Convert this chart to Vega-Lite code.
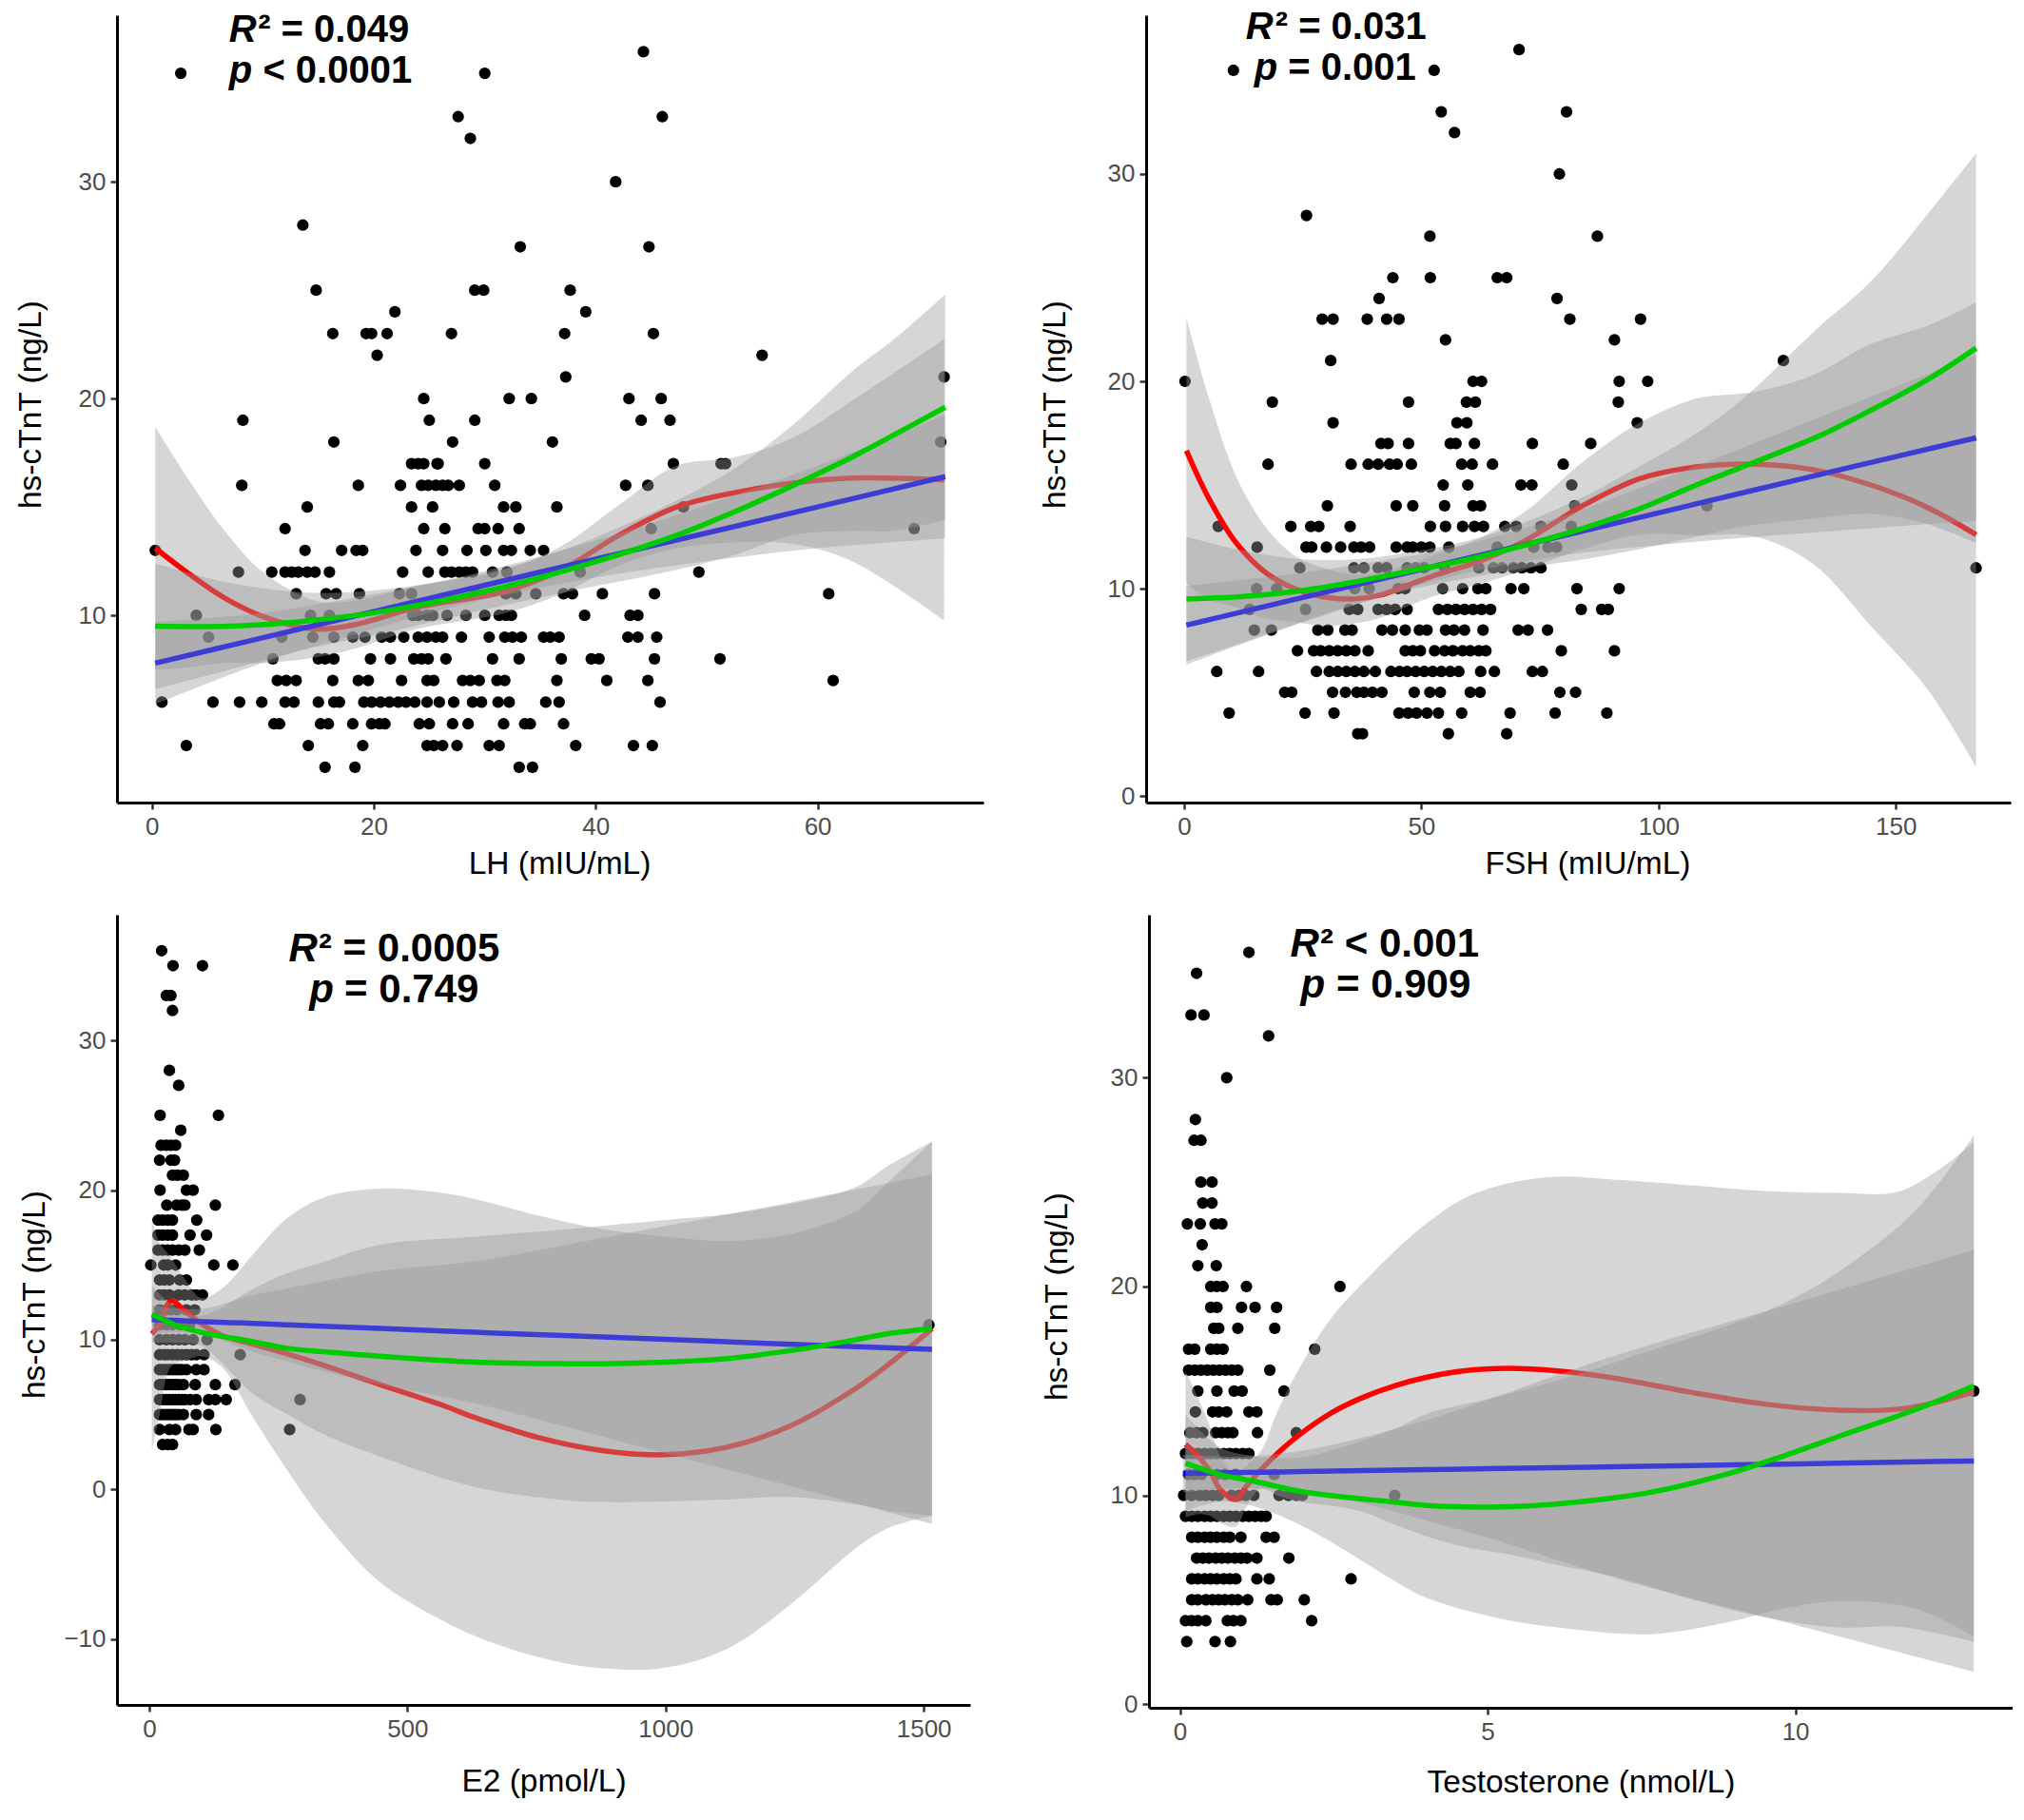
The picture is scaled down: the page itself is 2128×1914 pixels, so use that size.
{
"$schema":"https://vega.github.io/schema/vega-lite/v6.json",
"background":"white",
"padding":{"left":15,"top":8,"right":0,"bottom":0},
"config":{"view":{"stroke":null},"font":"Liberation Sans",
"axis":{"grid":false,"domainColor":"black","domainWidth":3,"tickColor":"#333333","tickWidth":2.5,"tickSize":7,"labelColor":"#4d4d4d","labelFontSize":26,"labelFont":"Liberation Sans","labelPadding":5,"titleFontSize":33.5,"titleFont":"Liberation Sans","titleFontWeight":"normal","titleColor":"black","labelOverlap":false,"format":"d"}},
"datasets":{
"p1pts":[{"x":44.3,"y":36},{"x":2.6,"y":35},{"x":30,"y":35},{"x":27.6,"y":33},{"x":46,"y":33},{"x":28.7,"y":32},{"x":41.8,"y":30},{"x":13.6,"y":28},{"x":33.2,"y":27},{"x":44.8,"y":27},{"x":14.8,"y":25},{"x":29.1,"y":25},{"x":29.9,"y":25},{"x":37.7,"y":25},{"x":21.9,"y":24},{"x":39.1,"y":24},{"x":16.3,"y":23},{"x":19.3,"y":23},{"x":19.8,"y":23},{"x":21.2,"y":23},{"x":27,"y":23},{"x":37.2,"y":23},{"x":45.2,"y":23},{"x":20.3,"y":22},{"x":55,"y":22},{"x":37.3,"y":21},{"x":71.4,"y":21},{"x":24.5,"y":20},{"x":32.2,"y":20},{"x":34.2,"y":20},{"x":43,"y":20},{"x":45.9,"y":20},{"x":8.2,"y":19},{"x":25,"y":19},{"x":29.1,"y":19},{"x":44.1,"y":19},{"x":46.7,"y":19},{"x":16.4,"y":18},{"x":27.1,"y":18},{"x":36.1,"y":18},{"x":71.1,"y":18},
{"x":23.4,"y":17},{"x":24,"y":17},{"x":24.5,"y":17},{"x":25.7,"y":17},{"x":25.8,"y":17},{"x":30,"y":17},{"x":47,"y":17},{"x":51.3,"y":17},{"x":51.7,"y":17},
{"x":8.1,"y":16},{"x":18.6,"y":16},{"x":22.4,"y":16},{"x":24.3,"y":16},{"x":24.9,"y":16},{"x":25.6,"y":16},{"x":26.2,"y":16},{"x":26.7,"y":16},{"x":27.7,"y":16},{"x":30.9,"y":16},{"x":42.7,"y":16},{"x":44.7,"y":16},
{"x":14,"y":15},{"x":23.4,"y":15},{"x":25.3,"y":15},{"x":31.7,"y":15},{"x":32.8,"y":15},{"x":36.5,"y":15},{"x":47.9,"y":15},
{"x":12,"y":14},{"x":24.5,"y":14},{"x":26.4,"y":14},{"x":29.4,"y":14},{"x":30,"y":14},{"x":31.2,"y":14},{"x":33.1,"y":14},{"x":45,"y":14},{"x":68.7,"y":14},
{"x":0.3,"y":13},{"x":13.8,"y":13},{"x":17.1,"y":13},{"x":18.4,"y":13},{"x":19,"y":13},{"x":23.8,"y":13},{"x":26.2,"y":13},{"x":28.4,"y":13},{"x":30.1,"y":13},{"x":31.7,"y":13},{"x":32.4,"y":13},{"x":34.1,"y":13},{"x":35.3,"y":13},
{"x":7.8,"y":12},{"x":10.8,"y":12},{"x":12,"y":12},{"x":12.6,"y":12},{"x":13.2,"y":12},{"x":14,"y":12},{"x":14.7,"y":12},{"x":16,"y":12},{"x":22.6,"y":12},{"x":24.9,"y":12},{"x":26.4,"y":12},{"x":27,"y":12},{"x":27.7,"y":12},{"x":28.3,"y":12},{"x":28.9,"y":12},{"x":30.7,"y":12},{"x":32,"y":12},{"x":38.6,"y":12},{"x":49.3,"y":12},
{"x":13,"y":11},{"x":15.7,"y":11},{"x":16.6,"y":11},{"x":18.7,"y":11},{"x":22.3,"y":11},{"x":23.4,"y":11},{"x":29.2,"y":11},{"x":31.9,"y":11},{"x":32.8,"y":11},{"x":34.6,"y":11},{"x":37.1,"y":11},{"x":37.9,"y":11},{"x":40.6,"y":11},{"x":45.3,"y":11},{"x":61,"y":11},
{"x":4,"y":10},{"x":14.3,"y":10},{"x":16,"y":10},{"x":23.5,"y":10},{"x":24,"y":10},{"x":24.8,"y":10},{"x":25.3,"y":10},{"x":26.6,"y":10},{"x":28.3,"y":10},{"x":30,"y":10},{"x":31.3,"y":10},{"x":31.9,"y":10},{"x":32.4,"y":10},{"x":39,"y":10},{"x":43.1,"y":10},{"x":43.8,"y":10},
{"x":5.1,"y":9},{"x":11.7,"y":9},{"x":14.5,"y":9},{"x":16.4,"y":9},{"x":18.1,"y":9},{"x":19.2,"y":9},{"x":20.7,"y":9},{"x":21.5,"y":9},{"x":22.7,"y":9},{"x":24,"y":9},{"x":24.8,"y":9},{"x":25.6,"y":9},{"x":26.2,"y":9},{"x":27.9,"y":9},{"x":30.4,"y":9},{"x":31.8,"y":9},{"x":32.5,"y":9},{"x":33.3,"y":9},{"x":35.3,"y":9},{"x":35.9,"y":9},{"x":36.7,"y":9},{"x":42.9,"y":9},{"x":43.8,"y":9},{"x":45.5,"y":9},
{"x":10.9,"y":8},{"x":15,"y":8},{"x":15.6,"y":8},{"x":16.4,"y":8},{"x":19.7,"y":8},{"x":21.5,"y":8},{"x":23.6,"y":8},{"x":24.3,"y":8},{"x":24.9,"y":8},{"x":26.5,"y":8},{"x":30.7,"y":8},{"x":33.1,"y":8},{"x":36.9,"y":8},{"x":39.6,"y":8},{"x":40.3,"y":8},{"x":45.3,"y":8},{"x":51.2,"y":8},
{"x":11.3,"y":7},{"x":12.1,"y":7},{"x":13,"y":7},{"x":16.3,"y":7},{"x":18.6,"y":7},{"x":19.5,"y":7},{"x":22.5,"y":7},{"x":24.8,"y":7},{"x":25.4,"y":7},{"x":28,"y":7},{"x":28.7,"y":7},{"x":29.5,"y":7},{"x":31.1,"y":7},{"x":31.8,"y":7},{"x":36.5,"y":7},{"x":41,"y":7},{"x":44.7,"y":7},{"x":61.4,"y":7},
{"x":0.9,"y":6},{"x":5.5,"y":6},{"x":7.9,"y":6},{"x":9.9,"y":6},{"x":12,"y":6},{"x":12.8,"y":6},{"x":15,"y":6},{"x":16.4,"y":6},{"x":16.9,"y":6},{"x":19.1,"y":6},{"x":19.8,"y":6},{"x":20.6,"y":6},{"x":21.4,"y":6},{"x":22.2,"y":6},{"x":22.9,"y":6},{"x":23.7,"y":6},{"x":24.8,"y":6},{"x":25.9,"y":6},{"x":27.2,"y":6},{"x":28.9,"y":6},{"x":29.7,"y":6},{"x":31.2,"y":6},{"x":32.2,"y":6},{"x":35.5,"y":6},{"x":36.7,"y":6},{"x":45.8,"y":6},
{"x":11,"y":5},{"x":11.5,"y":5},{"x":15.2,"y":5},{"x":15.9,"y":5},{"x":18.1,"y":5},{"x":19.8,"y":5},{"x":20.5,"y":5},{"x":21,"y":5},{"x":24.1,"y":5},{"x":25,"y":5},{"x":27.1,"y":5},{"x":28.5,"y":5},{"x":31.7,"y":5},{"x":33.6,"y":5},{"x":34.1,"y":5},{"x":37.1,"y":5},
{"x":3.1,"y":4},{"x":14.1,"y":4},{"x":19,"y":4},{"x":24.8,"y":4},{"x":25.4,"y":4},{"x":26.2,"y":4},{"x":27.5,"y":4},{"x":30.4,"y":4},{"x":31.3,"y":4},{"x":38.2,"y":4},{"x":43.4,"y":4},{"x":45.1,"y":4},
{"x":15.6,"y":3},{"x":18.3,"y":3},{"x":33.1,"y":3},{"x":34.3,"y":3}],
"p1r":[{"x":0.3,"y":13.1,"lo":7.5,"hi":18.7},{"x":3.25,"y":11.95,"lo":7.6,"hi":16.3},{"x":6.4,"y":10.85,"lo":7.8,"hi":14},{"x":10,"y":9.95,"lo":7.8,"hi":12},{"x":14.8,"y":9.37,"lo":8.07,"hi":10.67},{"x":18.5,"y":9.6,"lo":8.5,"hi":10.7},{"x":23.7,"y":10.35,"lo":9.35,"hi":11.35},{"x":31.6,"y":11.08,"lo":10.08,"hi":12.08},{"x":36.9,"y":12.1,"lo":11,"hi":13.2},{"x":42.1,"y":13.7,"lo":12.3,"hi":15.1},{"x":47.3,"y":15,"lo":13.1,"hi":16.9},{"x":52.6,"y":15.67,"lo":13.37,"hi":17.3},{"x":57.8,"y":16.1,"lo":13.3,"hi":18.2},{"x":63.1,"y":16.33,"lo":12.5,"hi":19.9},{"x":71.4,"y":16.25,"lo":9.77,"hi":22.74}],
"p1g":[{"x":0.3,"y":9.5,"lo":6.6,"hi":12.4},{"x":7,"y":9.5,"lo":7.5,"hi":11.5},{"x":14,"y":9.75,"lo":8.45,"hi":11.05},{"x":21,"y":10.2,"lo":9.2,"hi":11.2},{"x":31.6,"y":11.3,"lo":10.45,"hi":12.15},{"x":39.5,"y":12.4,"lo":11.3,"hi":13.5},{"x":47.3,"y":13.7,"lo":12.1,"hi":15.3},{"x":52.6,"y":14.8,"lo":12.8,"hi":16.8},{"x":57.8,"y":16,"lo":13.7,"hi":18.8},{"x":63.1,"y":17.3,"lo":13.9,"hi":21.25},{"x":66.8,"y":18.3,"lo":13.9,"hi":22.7},{"x":71.5,"y":19.6,"lo":14.4,"hi":24.8}],
"p1b":[{"x":0.3,"y":7.8,"lo":5.9,"hi":9.7},{"x":10,"y":8.97,"lo":7.82,"hi":10.12},{"x":20,"y":10.18,"lo":9.38,"hi":10.98},{"x":28,"y":11.15,"lo":10.5,"hi":11.8},{"x":40,"y":12.6,"lo":11.75,"hi":13.45},{"x":50,"y":13.8,"lo":12.5,"hi":15.1},{"x":60,"y":15,"lo":13.1,"hi":16.9},{"x":71.5,"y":16.4,"lo":13.55,"hi":19.25}],
"p1it":[{"x":6.95,"y":37,"t":"R"},{"x":6.95,"y":35.1,"t":"p"}],
"p1up":[{"x":9.55,"y":37,"t":"² = 0.049"},{"x":10,"y":35.1,"t":"< 0.0001"}],
"p2pts":[{"x":70.6,"y":36},{"x":10.4,"y":35},{"x":52.7,"y":35},{"x":54.2,"y":33},{"x":80.6,"y":33},{"x":57,"y":32},{"x":79.1,"y":30},{"x":25.8,"y":28},{"x":51.8,"y":27},{"x":87.1,"y":27},{"x":44,"y":25},{"x":51.9,"y":25},{"x":66,"y":25},{"x":68,"y":25},{"x":41.1,"y":24},{"x":78.6,"y":24},{"x":29.1,"y":23},{"x":31.4,"y":23},{"x":38.6,"y":23},{"x":42.7,"y":23},{"x":45.3,"y":23},{"x":81.3,"y":23},{"x":96.2,"y":23},{"x":55.1,"y":22},{"x":90.7,"y":22},{"x":30.9,"y":21},{"x":126.3,"y":21},{"x":0.2,"y":20},{"x":60.9,"y":20},{"x":62.7,"y":20},{"x":91.7,"y":20},{"x":97.7,"y":20},{"x":18.6,"y":19},{"x":47.3,"y":19},{"x":59.5,"y":19},{"x":61.4,"y":19},{"x":91.5,"y":19},{"x":31.4,"y":18},{"x":57.5,"y":18},{"x":59.6,"y":18},{"x":95.5,"y":18},
{"x":41.5,"y":17},{"x":43,"y":17},{"x":47.3,"y":17},{"x":56.1,"y":17},{"x":57.3,"y":17},{"x":61.2,"y":17},{"x":73.4,"y":17},{"x":85.7,"y":17},
{"x":17.7,"y":16},{"x":35.2,"y":16},{"x":38.8,"y":16},{"x":40.9,"y":16},{"x":43.3,"y":16},{"x":44.9,"y":16},{"x":47.9,"y":16},{"x":58.5,"y":16},{"x":60.7,"y":16},{"x":65,"y":16},{"x":79.9,"y":16},
{"x":54.6,"y":15},{"x":59.8,"y":15},{"x":71,"y":15},{"x":73.3,"y":15},{"x":81.7,"y":15},
{"x":30.2,"y":14},{"x":44.7,"y":14},{"x":48.2,"y":14},{"x":54.9,"y":14},{"x":60.9,"y":14},{"x":62.5,"y":14},{"x":82.3,"y":14},{"x":110.2,"y":14},
{"x":7.2,"y":13},{"x":22.5,"y":13},{"x":26.7,"y":13},{"x":28.4,"y":13},{"x":35,"y":13},{"x":51.9,"y":13},{"x":55.1,"y":13},{"x":58.7,"y":13},{"x":61.2,"y":13},{"x":63.1,"y":13},{"x":67.6,"y":13},{"x":70,"y":13},{"x":75.2,"y":13},{"x":81.6,"y":13},
{"x":15.4,"y":12},{"x":25.7,"y":12},{"x":26.9,"y":12},{"x":30,"y":12},{"x":33,"y":12},{"x":35.8,"y":12},{"x":37.3,"y":12},{"x":39.1,"y":12},{"x":44.7,"y":12},{"x":47,"y":12},{"x":48.2,"y":12},{"x":50,"y":12},{"x":51.8,"y":12},{"x":55.8,"y":12},{"x":66,"y":12},{"x":73.7,"y":12},{"x":76.7,"y":12},{"x":78.5,"y":12},
{"x":24.4,"y":11},{"x":35.8,"y":11},{"x":37.9,"y":11},{"x":40.9,"y":11},{"x":42.7,"y":11},{"x":47,"y":11},{"x":48.8,"y":11},{"x":50.6,"y":11},{"x":54.9,"y":11},{"x":62.1,"y":11},{"x":65.2,"y":11},{"x":67,"y":11},{"x":69.4,"y":11},{"x":71.2,"y":11},{"x":73.1,"y":11},{"x":75.2,"y":11},{"x":166.9,"y":11},
{"x":15.3,"y":10},{"x":19.5,"y":10},{"x":36,"y":10},{"x":39,"y":10},{"x":45.1,"y":10},{"x":46.6,"y":10},{"x":54.5,"y":10},{"x":58.7,"y":10},{"x":61.9,"y":10},{"x":63.6,"y":10},{"x":68.9,"y":10},{"x":71.6,"y":10},{"x":82.8,"y":10},{"x":91.7,"y":10},
{"x":13.8,"y":9},{"x":25.6,"y":9},{"x":34.8,"y":9},{"x":36.6,"y":9},{"x":40.9,"y":9},{"x":42.7,"y":9},{"x":44.5,"y":9},{"x":47,"y":9},{"x":53.6,"y":9},{"x":55.5,"y":9},{"x":57.3,"y":9},{"x":59.1,"y":9},{"x":60.9,"y":9},{"x":62.7,"y":9},{"x":64.6,"y":9},{"x":83.7,"y":9},{"x":88,"y":9},{"x":89.4,"y":9},
{"x":14.8,"y":8},{"x":18.4,"y":8},{"x":28.2,"y":8},{"x":30.3,"y":8},{"x":33.9,"y":8},{"x":35.4,"y":8},{"x":41.7,"y":8},{"x":43.9,"y":8},{"x":46.6,"y":8},{"x":49.6,"y":8},{"x":51.2,"y":8},{"x":55.1,"y":8},{"x":56.9,"y":8},{"x":59.1,"y":8},{"x":63,"y":8},{"x":70.4,"y":8},{"x":72.5,"y":8},{"x":76.6,"y":8},
{"x":23.9,"y":7},{"x":27.3,"y":7},{"x":28.8,"y":7},{"x":30.6,"y":7},{"x":32.4,"y":7},{"x":34.2,"y":7},{"x":36,"y":7},{"x":38.8,"y":7},{"x":46.6,"y":7},{"x":48.2,"y":7},{"x":49.8,"y":7},{"x":52.8,"y":7},{"x":54.9,"y":7},{"x":56.7,"y":7},{"x":58.7,"y":7},{"x":60.3,"y":7},{"x":62.1,"y":7},{"x":63.6,"y":7},{"x":79.5,"y":7},{"x":90.7,"y":7},
{"x":6.9,"y":6},{"x":15.7,"y":6},{"x":27.9,"y":6},{"x":30.6,"y":6},{"x":32.4,"y":6},{"x":34.2,"y":6},{"x":36,"y":6},{"x":37.9,"y":6},{"x":40.3,"y":6},{"x":43.6,"y":6},{"x":45.4,"y":6},{"x":47,"y":6},{"x":48.8,"y":6},{"x":50.6,"y":6},{"x":52.4,"y":6},{"x":54.2,"y":6},{"x":56.1,"y":6},{"x":57.9,"y":6},{"x":62.5,"y":6},{"x":65.4,"y":6},{"x":73.4,"y":6},{"x":75.5,"y":6},
{"x":21.2,"y":5},{"x":22.7,"y":5},{"x":31.3,"y":5},{"x":34,"y":5},{"x":36.4,"y":5},{"x":37.9,"y":5},{"x":39.7,"y":5},{"x":41.7,"y":5},{"x":48.5,"y":5},{"x":51.8,"y":5},{"x":54,"y":5},{"x":60.3,"y":5},{"x":62.4,"y":5},{"x":79.2,"y":5},{"x":82.5,"y":5},
{"x":9.5,"y":4},{"x":25.5,"y":4},{"x":31.6,"y":4},{"x":45.3,"y":4},{"x":47.2,"y":4},{"x":49,"y":4},{"x":51.2,"y":4},{"x":53.6,"y":4},{"x":58.5,"y":4},{"x":68.7,"y":4},{"x":78.2,"y":4},{"x":89.1,"y":4},
{"x":36.6,"y":3},{"x":37.6,"y":3},{"x":55.7,"y":3},{"x":68,"y":3}],
"p2r":[{"x":0.5,"y":16.66,"lo":10.26,"hi":23.06},{"x":5.1,"y":14.4,"lo":9.5,"hi":19.3},{"x":11,"y":12.2,"lo":9.1,"hi":15.4},{"x":17.2,"y":10.77,"lo":8.57,"hi":12.97},{"x":23.3,"y":10,"lo":8.4,"hi":11.6},{"x":29.4,"y":9.6,"lo":8.2,"hi":11},{"x":35.4,"y":9.5,"lo":8.3,"hi":10.7},{"x":41.5,"y":9.7,"lo":8.6,"hi":10.8},{"x":47.6,"y":10.2,"lo":9.2,"hi":11.2},{"x":53.6,"y":10.7,"lo":9.7,"hi":11.7},{"x":62,"y":11.3,"lo":10.2,"hi":12.4},{"x":71.8,"y":12.3,"lo":10.9,"hi":13.7},{"x":84,"y":14,"lo":11.9,"hi":16.1},{"x":96,"y":15.3,"lo":12.6,"hi":18},{"x":108,"y":15.87,"lo":12.57,"hi":19.17},{"x":120.4,"y":16,"lo":12.5,"hi":19.5},{"x":132.5,"y":15.74,"lo":11.2,"hi":20.3},{"x":144.7,"y":15,"lo":8.2,"hi":21.8},{"x":156.8,"y":13.9,"lo":5.1,"hi":22.7},{"x":166.9,"y":12.6,"lo":1.4,"hi":23.8}],
"p2g":[{"x":0.5,"y":9.5,"lo":6.5,"hi":12.5},{"x":11,"y":9.6,"lo":7.3,"hi":11.9},{"x":23,"y":9.85,"lo":8.25,"hi":11.45},{"x":35.4,"y":10.3,"lo":9.2,"hi":11.4},{"x":47.6,"y":10.85,"lo":9.95,"hi":11.75},{"x":59.7,"y":11.4,"lo":10.5,"hi":12.3},{"x":71.8,"y":12.1,"lo":11,"hi":13.2},{"x":84,"y":12.9,"lo":11.4,"hi":14.4},{"x":96,"y":13.85,"lo":11.9,"hi":15.9},{"x":108,"y":15,"lo":12.5,"hi":17.5},{"x":118,"y":15.9,"lo":13,"hi":19.2},{"x":133.7,"y":17.35,"lo":13.4,"hi":22.6},{"x":144.7,"y":18.6,"lo":13.6,"hi":24.8},{"x":156.8,"y":20.1,"lo":13.1,"hi":28.1},{"x":166.9,"y":21.6,"lo":12.2,"hi":31}],
"p2b":[{"x":0.5,"y":8.24,"lo":6.34,"hi":10.14},{"x":25,"y":9.57,"lo":8.37,"hi":10.77},{"x":50,"y":10.93,"lo":10.18,"hi":11.68},{"x":60,"y":11.48,"lo":10.78,"hi":12.18},{"x":80,"y":12.56,"lo":11.61,"hi":13.51},{"x":110,"y":14.2,"lo":12.3,"hi":16.1},{"x":140,"y":15.83,"lo":12.83,"hi":18.83},{"x":166.9,"y":17.27,"lo":13.27,"hi":21.27}],
"p2it":[{"x":13,"y":37.07,"t":"R"},{"x":14.8,"y":35.1,"t":"p"}],
"p2up":[{"x":19.2,"y":37.07,"t":"² = 0.031"},{"x":21.9,"y":35.1,"t":"= 0.001"}],
"p3pts":[{"x":24,"y":36},{"x":46,"y":35},{"x":103,"y":35},{"x":33,"y":33},{"x":42,"y":33},{"x":45,"y":32},{"x":39,"y":28},{"x":57,"y":27},{"x":21,"y":25},{"x":134,"y":25},{"x":61,"y":24},{"x":23,"y":23},{"x":33,"y":23},{"x":42,"y":23},{"x":51,"y":23},{"x":20,"y":22},{"x":42,"y":22},{"x":49,"y":22},{"x":45,"y":21},{"x":55,"y":21},{"x":66,"y":21},{"x":21,"y":20},{"x":72,"y":20},{"x":85,"y":20},{"x":34,"y":19},{"x":53,"y":19},{"x":63,"y":19},{"x":69,"y":19},{"x":128,"y":19},
{"x":17,"y":18},{"x":26,"y":18},{"x":36,"y":18},{"x":45,"y":18},{"x":92,"y":18},{"x":17,"y":17},{"x":26,"y":17},{"x":36,"y":17},{"x":45,"y":17},{"x":79,"y":17},{"x":111,"y":17},{"x":17,"y":16},{"x":26,"y":16},{"x":36,"y":16},{"x":45,"y":16},{"x":57,"y":16},{"x":69,"y":16},{"x":97,"y":16},
{"x":3,"y":15},{"x":28,"y":15},{"x":36,"y":15},{"x":51,"y":15},{"x":125,"y":15},{"x":162,"y":15},{"x":20,"y":14},{"x":29,"y":14},{"x":39,"y":14},{"x":59,"y":14},{"x":72,"y":14},
{"x":20,"y":13},{"x":29,"y":13},{"x":39,"y":13},{"x":57,"y":13},{"x":69,"y":13},{"x":82,"y":13},{"x":91,"y":13},{"x":103,"y":13},{"x":20,"y":12},{"x":33,"y":12},{"x":42,"y":12},{"x":54,"y":12},{"x":72,"y":12},{"x":88,"y":12},{"x":20,"y":11},{"x":33,"y":11},{"x":45,"y":11},{"x":60,"y":11},{"x":78,"y":11},{"x":1510,"y":11},
{"x":20,"y":10},{"x":33,"y":10},{"x":45,"y":10},{"x":57,"y":10},{"x":69,"y":10},{"x":85,"y":10},{"x":112,"y":10},
{"x":20,"y":9},{"x":29,"y":9},{"x":36,"y":9},{"x":45,"y":9},{"x":54,"y":9},{"x":63,"y":9},{"x":72,"y":9},{"x":82,"y":9},{"x":91,"y":9},{"x":106,"y":9},{"x":176,"y":9},
{"x":20,"y":8},{"x":26,"y":8},{"x":33,"y":8},{"x":39,"y":8},{"x":45,"y":8},{"x":51,"y":8},{"x":57,"y":8},{"x":63,"y":8},{"x":72,"y":8},{"x":91,"y":8},{"x":106,"y":8},
{"x":20,"y":7},{"x":26,"y":7},{"x":33,"y":7},{"x":39,"y":7},{"x":45,"y":7},{"x":51,"y":7},{"x":57,"y":7},{"x":66,"y":7},{"x":89,"y":7},{"x":128,"y":7},{"x":166,"y":7},
{"x":20,"y":6},{"x":26,"y":6},{"x":33,"y":6},{"x":39,"y":6},{"x":45,"y":6},{"x":51,"y":6},{"x":57,"y":6},{"x":63,"y":6},{"x":69,"y":6},{"x":79,"y":6},{"x":91,"y":6},{"x":115,"y":6},{"x":128,"y":6},{"x":149,"y":6},{"x":292,"y":6},
{"x":20,"y":5},{"x":26,"y":5},{"x":33,"y":5},{"x":39,"y":5},{"x":45,"y":5},{"x":51,"y":5},{"x":57,"y":5},{"x":66,"y":5},{"x":91,"y":5},{"x":115,"y":5},
{"x":20,"y":4},{"x":39,"y":4},{"x":51,"y":4},{"x":77,"y":4},{"x":85,"y":4},{"x":129,"y":4},{"x":272,"y":4},
{"x":26,"y":3},{"x":36,"y":3},{"x":45,"y":3}],
"p3r":[{"x":5,"y":10.4,"lo":2.6,"hi":18},{"x":20,"y":11,"lo":5,"hi":16.5},{"x":42,"y":12.6,"lo":8.2,"hi":15.5},{"x":70,"y":11.9,"lo":8.6,"hi":14},{"x":100,"y":11.1,"lo":8.9,"hi":12.8},{"x":140,"y":10.3,"lo":8.2,"hi":13.4},{"x":201,"y":9.7,"lo":4.8,"hi":15.7},{"x":263,"y":9.1,"lo":1.5,"hi":18},{"x":337,"y":8.3,"lo":-2.1,"hi":19.5},{"x":447,"y":7,"lo":-6.2,"hi":20.1},{"x":570,"y":5.6,"lo":-8.8,"hi":19.8},{"x":631,"y":4.8,"lo":-9.8,"hi":19.4},{"x":754,"y":3.46,"lo":-11.2,"hi":18.3},{"x":877,"y":2.6,"lo":-11.96,"hi":17.4},{"x":1000,"y":2.32,"lo":-11.9,"hi":16.9},{"x":1122,"y":2.85,"lo":-10.6,"hi":16.6},{"x":1245,"y":4.3,"lo":-7.6,"hi":17.1},{"x":1368,"y":6.74,"lo":-3.95,"hi":18.6},{"x":1430,"y":8.3,"lo":-2.6,"hi":20.5},{"x":1516,"y":10.74,"lo":-1.76,"hi":23.25}],
"p3g":[{"x":5,"y":11.7,"lo":9.8,"hi":13.6},{"x":50,"y":11,"lo":9.8,"hi":12.2},{"x":100,"y":10.5,"lo":9.6,"hi":11.6},{"x":201,"y":9.87,"lo":6.4,"hi":13.4},{"x":263,"y":9.45,"lo":5.1,"hi":14.4},{"x":337,"y":9.2,"lo":3.7,"hi":15.2},{"x":447,"y":8.9,"lo":2.2,"hi":16.35},{"x":631,"y":8.51,"lo":0.16,"hi":16.9},{"x":816,"y":8.4,"lo":-0.75,"hi":17.4},{"x":877,"y":8.39,"lo":-0.84,"hi":17.6},{"x":1000,"y":8.5,"lo":-0.8,"hi":18},{"x":1122,"y":8.75,"lo":-0.67,"hi":18.4},{"x":1245,"y":9.29,"lo":-0.5,"hi":19.1},{"x":1368,"y":10,"lo":-1,"hi":20.2},{"x":1430,"y":10.4,"lo":-1.4,"hi":21.6},{"x":1516,"y":10.74,"lo":-1.76,"hi":23.25}],
"p3b":[{"x":5,"y":11.35,"lo":10.4,"hi":12.3},{"x":50,"y":11.3,"lo":10.5,"hi":12.1},{"x":109,"y":11.2,"lo":10.3,"hi":12.1},{"x":201,"y":11.1,"lo":9.2,"hi":13},{"x":263,"y":11,"lo":8.6,"hi":13.4},{"x":337,"y":10.9,"lo":7.9,"hi":13.9},{"x":447,"y":10.76,"lo":7,"hi":14.6},{"x":631,"y":10.5,"lo":5.76,"hi":15.24},{"x":816,"y":10.27,"lo":4.1,"hi":16.4},{"x":1000,"y":10.03,"lo":2.4,"hi":17.6},{"x":1245,"y":9.7,"lo":0.2,"hi":19.2},{"x":1516,"y":9.36,"lo":-2.3,"hi":21.05}],
"p3it":[{"x":270,"y":36.1,"t":"R"},{"x":310,"y":33.35,"t":"p"}],
"p3up":[{"x":328,"y":36.1,"t":"² = 0.0005"},{"x":378,"y":33.35,"t":"= 0.749"}],
"p4pts":[{"x":1.12,"y":36},{"x":0.27,"y":35},{"x":0.18,"y":33},{"x":0.39,"y":33},{"x":1.44,"y":32},{"x":0.76,"y":30},{"x":0.25,"y":28},{"x":0.23,"y":27},{"x":0.34,"y":27},{"x":0.34,"y":25},{"x":0.52,"y":25},{"x":0.37,"y":24},{"x":0.52,"y":24},{"x":0.12,"y":23},{"x":0.33,"y":23},{"x":0.57,"y":23},{"x":0.68,"y":23},{"x":0.36,"y":22},{"x":0.29,"y":21},{"x":0.59,"y":21},{"x":0.5,"y":20},{"x":0.6,"y":20},{"x":0.7,"y":20},{"x":1.08,"y":20},{"x":2.6,"y":20},{"x":0.5,"y":19},{"x":0.6,"y":19},{"x":1,"y":19},{"x":1.22,"y":19},{"x":1.57,"y":19},{"x":0.55,"y":18},{"x":0.63,"y":18},{"x":0.94,"y":18},{"x":1.54,"y":18},
{"x":0.14,"y":17},{"x":0.24,"y":17},{"x":0.5,"y":17},{"x":0.6,"y":17},{"x":0.7,"y":17},{"x":2.19,"y":17},
{"x":0.14,"y":16},{"x":0.24,"y":16},{"x":0.34,"y":16},{"x":0.44,"y":16},{"x":0.54,"y":16},{"x":0.64,"y":16},{"x":0.74,"y":16},{"x":0.84,"y":16},{"x":0.94,"y":16},{"x":1.46,"y":16},
{"x":0.29,"y":15},{"x":0.6,"y":15},{"x":0.88,"y":15},{"x":1.01,"y":15},{"x":1.69,"y":15},
{"x":0.25,"y":14},{"x":0.53,"y":14},{"x":0.63,"y":14},{"x":0.76,"y":14},{"x":1.12,"y":14},{"x":1.25,"y":14},
{"x":0.16,"y":13},{"x":0.27,"y":13},{"x":0.37,"y":13},{"x":0.58,"y":13},{"x":0.68,"y":13},{"x":0.78,"y":13},{"x":0.86,"y":13},{"x":1.26,"y":13},{"x":1.89,"y":13},
{"x":0.09,"y":12},{"x":0.19,"y":12},{"x":0.29,"y":12},{"x":0.4,"y":12},{"x":0.5,"y":12},{"x":0.6,"y":12},{"x":0.71,"y":12},{"x":0.81,"y":12},{"x":0.91,"y":12},{"x":1.02,"y":12},{"x":1.12,"y":12},
{"x":0.14,"y":11},{"x":0.24,"y":11},{"x":0.35,"y":11},{"x":0.6,"y":11},{"x":0.73,"y":11},{"x":0.9,"y":11},{"x":1.53,"y":11},{"x":12.9,"y":15},
{"x":0.06,"y":10},{"x":0.19,"y":10},{"x":0.32,"y":10},{"x":0.42,"y":10},{"x":0.53,"y":10},{"x":0.63,"y":10},{"x":0.84,"y":10},{"x":0.96,"y":10},{"x":1.07,"y":10},{"x":1.2,"y":10},{"x":1.61,"y":10},{"x":1.76,"y":10},{"x":1.89,"y":10},{"x":1.99,"y":10},{"x":3.49,"y":10},
{"x":0.09,"y":9},{"x":0.19,"y":9},{"x":0.29,"y":9},{"x":0.4,"y":9},{"x":0.5,"y":9},{"x":0.6,"y":9},{"x":0.71,"y":9},{"x":0.81,"y":9},{"x":0.91,"y":9},{"x":1.02,"y":9},{"x":1.12,"y":9},{"x":1.22,"y":9},{"x":1.32,"y":9},{"x":1.4,"y":9},
{"x":0.19,"y":8},{"x":0.29,"y":8},{"x":0.4,"y":8},{"x":0.5,"y":8},{"x":0.6,"y":8},{"x":0.71,"y":8},{"x":0.81,"y":8},{"x":0.99,"y":8},{"x":1.4,"y":8},{"x":1.53,"y":8},
{"x":0.27,"y":7},{"x":0.37,"y":7},{"x":0.47,"y":7},{"x":0.58,"y":7},{"x":0.68,"y":7},{"x":0.78,"y":7},{"x":0.89,"y":7},{"x":0.99,"y":7},{"x":1.09,"y":7},{"x":1.25,"y":7},{"x":1.77,"y":7},
{"x":0.19,"y":6},{"x":0.29,"y":6},{"x":0.4,"y":6},{"x":0.5,"y":6},{"x":0.6,"y":6},{"x":0.71,"y":6},{"x":0.81,"y":6},{"x":0.91,"y":6},{"x":1.25,"y":6},{"x":1.45,"y":6},{"x":2.78,"y":6},
{"x":0.19,"y":5},{"x":0.29,"y":5},{"x":0.42,"y":5},{"x":0.53,"y":5},{"x":0.63,"y":5},{"x":0.73,"y":5},{"x":0.84,"y":5},{"x":0.94,"y":5},{"x":1.1,"y":5},{"x":1.48,"y":5},{"x":1.58,"y":5},{"x":2.02,"y":5},
{"x":0.09,"y":4},{"x":0.19,"y":4},{"x":0.29,"y":4},{"x":0.42,"y":4},{"x":0.77,"y":4},{"x":0.87,"y":4},{"x":0.99,"y":4},{"x":2.14,"y":4},
{"x":0.11,"y":3},{"x":0.57,"y":3},{"x":0.82,"y":3}],
"p4r":[{"x":0.09,"y":12.45,"lo":8.95,"hi":15.95},{"x":0.29,"y":11.9,"lo":9.1,"hi":14.7},{"x":0.5,"y":11.1,"lo":9,"hi":13.2},{"x":0.65,"y":10.3,"lo":8.7,"hi":11.9},{"x":0.91,"y":9.8,"lo":8.5,"hi":11.1},{"x":1.07,"y":10.4,"lo":9.4,"hi":11.4},{"x":1.32,"y":11.24,"lo":10.34,"hi":12.14},{"x":1.58,"y":12,"lo":10,"hi":14},{"x":1.94,"y":12.9,"lo":9.7,"hi":16.1},{"x":2.46,"y":13.95,"lo":9.5,"hi":18.5},{"x":2.98,"y":14.7,"lo":9.2,"hi":20.2},{"x":3.49,"y":15.25,"lo":8.6,"hi":21.7},{"x":4,"y":15.65,"lo":8.05,"hi":23},{"x":4.6,"y":15.96,"lo":7.55,"hi":24.2},{"x":5.34,"y":16.08,"lo":7.18,"hi":24.95},{"x":6.14,"y":15.96,"lo":6.66,"hi":25.26},{"x":7.05,"y":15.62,"lo":6.12,"hi":25.12},{"x":8.28,"y":14.95,"lo":5.05,"hi":24.85},{"x":9.5,"y":14.37,"lo":4.17,"hi":24.57},{"x":10.7,"y":14.08,"lo":3.68,"hi":24.48},{"x":11.64,"y":14.12,"lo":3.72,"hi":24.52},{"x":12.25,"y":14.43,"lo":3.43,"hi":25.43},{"x":12.9,"y":14.95,"lo":3,"hi":26.9}],
"p4g":[{"x":0.09,"y":11.55,"lo":9.25,"hi":13.85},{"x":0.65,"y":11,"lo":9.7,"hi":12.3},{"x":1.17,"y":10.7,"lo":9.5,"hi":11.9},{"x":1.94,"y":10.2,"lo":8.6,"hi":11.8},{"x":2.72,"y":9.9,"lo":7.3,"hi":12.4},{"x":3.49,"y":9.68,"lo":5.9,"hi":13.18},{"x":4,"y":9.52,"lo":5.1,"hi":13.89},{"x":5.2,"y":9.45,"lo":4.1,"hi":14.75},{"x":6.44,"y":9.68,"lo":3.58,"hi":15.78},{"x":7.67,"y":10.16,"lo":3.36,"hi":16.96},{"x":8.89,"y":11.02,"lo":3.92,"hi":18.12},{"x":9.8,"y":11.88,"lo":4.58,"hi":19.18},{"x":10.72,"y":12.84,"lo":4.94,"hi":20.74},{"x":11.94,"y":14.09,"lo":4.59,"hi":23.59},{"x":12.9,"y":15.24,"lo":3.24,"hi":27.24}],
"p4b":[{"x":0.05,"y":11.05,"lo":10.15,"hi":11.95},{"x":1,"y":11.1,"lo":10.35,"hi":11.85},{"x":2,"y":11.14,"lo":10.14,"hi":12.14},{"x":3,"y":11.19,"lo":9.59,"hi":12.79},{"x":4,"y":11.23,"lo":8.8,"hi":13.6},{"x":5,"y":11.28,"lo":7.98,"hi":14.58},{"x":7.05,"y":11.37,"lo":6.07,"hi":16.67},{"x":9.86,"y":11.5,"lo":3.9,"hi":19.1},{"x":12.9,"y":11.65,"lo":1.55,"hi":21.75}],
"p4it":[{"x":1.79,"y":36.4,"t":"R"},{"x":1.96,"y":34.45,"t":"p"}],
"p4up":[{"x":2.28,"y":36.4,"t":"² < 0.001"},{"x":2.54,"y":34.45,"t":"= 0.909"}]
},
"bounds":"full",
"align":"none",
"center":false,
"spacing":37,
"vconcat":[
{"spacing":58,"bounds":"full","hconcat":[
{"width":911,"height":828,
"encoding":{"x":{"field":"x","type":"quantitative","scale":{"domain":[-3.15,74.95],"nice":false,"zero":false},"axis":{"values":[0,20,40,60],"title":"LH (mIU/mL)","titlePadding":10,"titleX":465}},"y":{"field":"y","type":"quantitative","scale":{"domain":[1.37,37.68],"nice":false,"zero":false},"axis":{"values":[10,20,30],"title":"hs-cTnT (ng/L)","titlePadding":33,"titleY":409}}},
"layer":[
{"data":{"name":"p1pts"},"mark":{"type":"circle","size":150,"color":"black","opacity":1}},
{"data":{"name":"p1r"},"mark":{"type":"area","color":"#999999","opacity":0.4,"interpolate":"catmull-rom"},"encoding":{"y":{"field":"lo","type":"quantitative","scale":{"domain":[1.37,37.68],"nice":false,"zero":false},"axis":{"values":[10,20,30],"title":"hs-cTnT (ng/L)","titlePadding":33,"titleY":409}},"y2":{"field":"hi"}}},
{"data":{"name":"p1r"},"mark":{"type":"line","color":"#ff0000","strokeWidth":5.5,"interpolate":"catmull-rom"}},
{"data":{"name":"p1b"},"mark":{"type":"area","color":"#999999","opacity":0.4,"interpolate":"catmull-rom"},"encoding":{"y":{"field":"lo","type":"quantitative","scale":{"domain":[1.37,37.68],"nice":false,"zero":false},"axis":{"values":[10,20,30],"title":"hs-cTnT (ng/L)","titlePadding":33,"titleY":409}},"y2":{"field":"hi"}}},
{"data":{"name":"p1b"},"mark":{"type":"line","color":"#0000ff","strokeWidth":5.5,"interpolate":"catmull-rom"}},
{"data":{"name":"p1g"},"mark":{"type":"area","color":"#999999","opacity":0.4,"interpolate":"catmull-rom"},"encoding":{"y":{"field":"lo","type":"quantitative","scale":{"domain":[1.37,37.68],"nice":false,"zero":false},"axis":{"values":[10,20,30],"title":"hs-cTnT (ng/L)","titlePadding":33,"titleY":409}},"y2":{"field":"hi"}}},
{"data":{"name":"p1g"},"mark":{"type":"line","color":"#00cd00","strokeWidth":5.5,"interpolate":"catmull-rom"}},
{"data":{"name":"p1it"},"mark":{"type":"text","align":"left","baseline":"middle","font":"Liberation Sans","fontSize":40,"fontWeight":"bold","fontStyle":"italic","color":"black"},"encoding":{"text":{"field":"t"}}},
{"data":{"name":"p1up"},"mark":{"type":"text","align":"left","baseline":"middle","font":"Liberation Sans","fontSize":40,"fontWeight":"bold","color":"black"},"encoding":{"text":{"field":"t"}}}
]},
{"width":909,"height":828,
"encoding":{"x":{"field":"x","type":"quantitative","scale":{"domain":[-8,174.2],"nice":false,"zero":false},"axis":{"values":[0,50,100,150],"title":"FSH (mIU/mL)","titlePadding":10,"titleX":464}},"y":{"field":"y","type":"quantitative","scale":{"domain":[-0.32,37.66],"nice":false,"zero":false},"axis":{"values":[0,10,20,30],"title":"hs-cTnT (ng/L)","titlePadding":38,"titleY":409}}},
"layer":[
{"data":{"name":"p2pts"},"mark":{"type":"circle","size":150,"color":"black","opacity":1}},
{"data":{"name":"p2r"},"mark":{"type":"area","color":"#999999","opacity":0.4,"interpolate":"catmull-rom"},"encoding":{"y":{"field":"lo","type":"quantitative","scale":{"domain":[-0.32,37.66],"nice":false,"zero":false},"axis":{"values":[0,10,20,30],"title":"hs-cTnT (ng/L)","titlePadding":38,"titleY":409}},"y2":{"field":"hi"}}},
{"data":{"name":"p2r"},"mark":{"type":"line","color":"#ff0000","strokeWidth":5.5,"interpolate":"catmull-rom"}},
{"data":{"name":"p2b"},"mark":{"type":"area","color":"#999999","opacity":0.4,"interpolate":"catmull-rom"},"encoding":{"y":{"field":"lo","type":"quantitative","scale":{"domain":[-0.32,37.66],"nice":false,"zero":false},"axis":{"values":[0,10,20,30],"title":"hs-cTnT (ng/L)","titlePadding":38,"titleY":409}},"y2":{"field":"hi"}}},
{"data":{"name":"p2b"},"mark":{"type":"line","color":"#0000ff","strokeWidth":5.5,"interpolate":"catmull-rom"}},
{"data":{"name":"p2g"},"mark":{"type":"area","color":"#999999","opacity":0.4,"interpolate":"catmull-rom"},"encoding":{"y":{"field":"lo","type":"quantitative","scale":{"domain":[-0.32,37.66],"nice":false,"zero":false},"axis":{"values":[0,10,20,30],"title":"hs-cTnT (ng/L)","titlePadding":38,"titleY":409}},"y2":{"field":"hi"}}},
{"data":{"name":"p2g"},"mark":{"type":"line","color":"#00cd00","strokeWidth":5.5,"interpolate":"catmull-rom"}},
{"data":{"name":"p2it"},"mark":{"type":"text","align":"left","baseline":"middle","font":"Liberation Sans","fontSize":40,"fontWeight":"bold","fontStyle":"italic","color":"black"},"encoding":{"text":{"field":"t"}}},
{"data":{"name":"p2up"},"mark":{"type":"text","align":"left","baseline":"middle","font":"Liberation Sans","fontSize":40,"fontWeight":"bold","color":"black"},"encoding":{"text":{"field":"t"}}}
]}
]},
{"spacing":74,"bounds":"full","hconcat":[
{"width":897,"height":831,
"encoding":{"x":{"field":"x","type":"quantitative","scale":{"domain":[-62.5,1590],"nice":false,"zero":false},"axis":{"values":[0,500,1000,1500],"title":"E2 (pmol/L)","titlePadding":26}},"y":{"field":"y","type":"quantitative","scale":{"domain":[-14.4,38.4],"nice":false,"zero":false},"axis":{"values":[-10,0,10,20,30],"title":"hs-cTnT (ng/L)","titlePadding":13,"titleY":399}}},
"layer":[
{"data":{"name":"p3pts"},"mark":{"type":"circle","size":150,"color":"black","opacity":1}},
{"data":{"name":"p3r"},"mark":{"type":"area","color":"#999999","opacity":0.4,"interpolate":"catmull-rom"},"encoding":{"y":{"field":"lo","type":"quantitative","scale":{"domain":[-14.4,38.4],"nice":false,"zero":false},"axis":{"values":[-10,0,10,20,30],"title":"hs-cTnT (ng/L)","titlePadding":13,"titleY":399}},"y2":{"field":"hi"}}},
{"data":{"name":"p3r"},"mark":{"type":"line","color":"#ff0000","strokeWidth":5.5,"interpolate":"catmull-rom"}},
{"data":{"name":"p3b"},"mark":{"type":"area","color":"#999999","opacity":0.4,"interpolate":"catmull-rom"},"encoding":{"y":{"field":"lo","type":"quantitative","scale":{"domain":[-14.4,38.4],"nice":false,"zero":false},"axis":{"values":[-10,0,10,20,30],"title":"hs-cTnT (ng/L)","titlePadding":13,"titleY":399}},"y2":{"field":"hi"}}},
{"data":{"name":"p3b"},"mark":{"type":"line","color":"#0000ff","strokeWidth":5.5,"interpolate":"catmull-rom"}},
{"data":{"name":"p3g"},"mark":{"type":"area","color":"#999999","opacity":0.4,"interpolate":"catmull-rom"},"encoding":{"y":{"field":"lo","type":"quantitative","scale":{"domain":[-14.4,38.4],"nice":false,"zero":false},"axis":{"values":[-10,0,10,20,30],"title":"hs-cTnT (ng/L)","titlePadding":13,"titleY":399}},"y2":{"field":"hi"}}},
{"data":{"name":"p3g"},"mark":{"type":"line","color":"#00cd00","strokeWidth":5.5,"interpolate":"catmull-rom"}},
{"data":{"name":"p3it"},"mark":{"type":"text","align":"left","baseline":"middle","font":"Liberation Sans","fontSize":42,"fontWeight":"bold","fontStyle":"italic","color":"black"},"encoding":{"text":{"field":"t"}}},
{"data":{"name":"p3up"},"mark":{"type":"text","align":"left","baseline":"middle","font":"Liberation Sans","fontSize":42,"fontWeight":"bold","color":"black"},"encoding":{"text":{"field":"t"}}}
]},
{"width":908,"height":834,
"encoding":{"x":{"field":"x","type":"quantitative","scale":{"domain":[-0.504,13.53],"nice":false,"zero":false},"axis":{"values":[0,5,10],"title":"Testosterone (nmol/L)","titlePadding":24}},"y":{"field":"y","type":"quantitative","scale":{"domain":[-0.17,37.8],"nice":false,"zero":false},"axis":{"values":[0,10,20,30],"title":"hs-cTnT (ng/L)","titlePadding":39,"titleY":401}}},
"layer":[
{"data":{"name":"p4pts"},"mark":{"type":"circle","size":150,"color":"black","opacity":1}},
{"data":{"name":"p4r"},"mark":{"type":"area","color":"#999999","opacity":0.4,"interpolate":"catmull-rom"},"encoding":{"y":{"field":"lo","type":"quantitative","scale":{"domain":[-0.17,37.8],"nice":false,"zero":false},"axis":{"values":[0,10,20,30],"title":"hs-cTnT (ng/L)","titlePadding":39,"titleY":401}},"y2":{"field":"hi"}}},
{"data":{"name":"p4r"},"mark":{"type":"line","color":"#ff0000","strokeWidth":5.5,"interpolate":"catmull-rom"}},
{"data":{"name":"p4b"},"mark":{"type":"area","color":"#999999","opacity":0.4,"interpolate":"catmull-rom"},"encoding":{"y":{"field":"lo","type":"quantitative","scale":{"domain":[-0.17,37.8],"nice":false,"zero":false},"axis":{"values":[0,10,20,30],"title":"hs-cTnT (ng/L)","titlePadding":39,"titleY":401}},"y2":{"field":"hi"}}},
{"data":{"name":"p4b"},"mark":{"type":"line","color":"#0000ff","strokeWidth":5.5,"interpolate":"catmull-rom"}},
{"data":{"name":"p4g"},"mark":{"type":"area","color":"#999999","opacity":0.4,"interpolate":"catmull-rom"},"encoding":{"y":{"field":"lo","type":"quantitative","scale":{"domain":[-0.17,37.8],"nice":false,"zero":false},"axis":{"values":[0,10,20,30],"title":"hs-cTnT (ng/L)","titlePadding":39,"titleY":401}},"y2":{"field":"hi"}}},
{"data":{"name":"p4g"},"mark":{"type":"line","color":"#00cd00","strokeWidth":5.5,"interpolate":"catmull-rom"}},
{"data":{"name":"p4it"},"mark":{"type":"text","align":"left","baseline":"middle","font":"Liberation Sans","fontSize":42,"fontWeight":"bold","fontStyle":"italic","color":"black"},"encoding":{"text":{"field":"t"}}},
{"data":{"name":"p4up"},"mark":{"type":"text","align":"left","baseline":"middle","font":"Liberation Sans","fontSize":42,"fontWeight":"bold","color":"black"},"encoding":{"text":{"field":"t"}}}
]}
]}
]}
